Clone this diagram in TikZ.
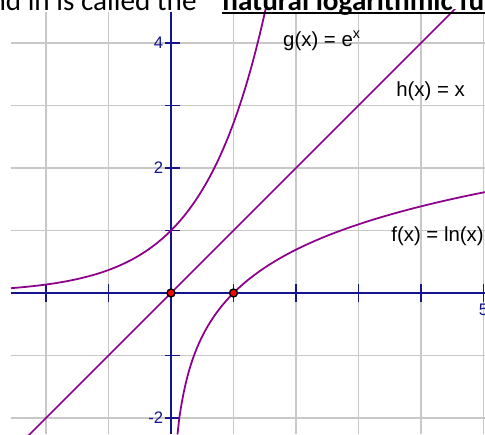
\documentclass[tikz,border=0pt]{standalone}
\usepackage{fontspec}
\setmainfont{Liberation Sans}
\newfontfamily\slidefont{Carlito}
\usetikzlibrary{positioning}
\definecolor{axisblue}{RGB}{20,20,140}
\definecolor{curvepurple}{RGB}{140,0,140}
\definecolor{gridgray}{RGB}{200,200,200}

\begin{document}
\begin{tikzpicture}[
  x=1.25cm, y=1.25cm,
  gridline/.style={draw=gridgray, line width=1.1pt},
  axis/.style={draw=axisblue, line width=1.1pt},
  curve/.style={draw=curvepurple, line width=1pt},
  ticklabel/.style={font=\fontsize{9.5}{11}\selectfont, text=axisblue, inner sep=1pt},
  fnlabel/.style={font=\fontsize{11.6}{13}\selectfont, inner sep=0pt, anchor=base west},
  slide/.style={font=\slidefont\fontsize{16.6}{19}\selectfont, inner sep=0pt},
  dot/.style={circle, draw=black, fill=red, line width=0.8pt, minimum size=0.16cm, inner sep=0pt}
]
\useasboundingbox (-2.736,-2.256) rectangle (5.024,4.688);

% ── Grid ───────────────────────────────────────────────────────────────────
\foreach \x in {-2,-1,1,2,3,4,5}
  \draw[gridline] (\x,-2.26) -- (\x,4.5);
\foreach \y in {-2,-1,1,2,3,4}
  \draw[gridline] (-2.56,\y) -- (5.03,\y);

% ── Axes and ticks ─────────────────────────────────────────────────────────
\draw[axis] (-2.56,0) -- (5.03,0);
\draw[axis] (0,-2.26) -- (0,4.5);
\foreach \x in {-2,-1,1,2,3,4,5}
  \draw[axis] (\x,-0.14) -- (\x,0.14);
\foreach \y in {-2,-1,1,2,3,4}
  \draw[axis] (-0.09,\y) -- (0.14,\y);

\node[ticklabel, left]  (yfour)  at (-0.09,4)  {4};
\node[ticklabel, left]  (ytwo)   at (-0.09,2)  {2};
\node[ticklabel, left]  (ymtwo)  at (-0.09,-2) {-2};
\node[ticklabel, below] (xfive)  at (5,-0.15)  {5};

% ── Curves ─────────────────────────────────────────────────────────────────
\begin{scope}
  \clip (-2.56,-2.26) rectangle (5.03,4.53);
  \draw[curve] plot[domain=-2.56:1.52, samples=100] (\x,{exp(\x)});
  \draw[curve] plot[domain=0.104:5.03, samples=160] (\x,{ln(\x)});
  \draw[curve] (-2.3,-2.3) -- (4.6,4.6);
\end{scope}

\node[dot] (origin) at (0,0) {};
\node[dot] (one)    at (1,0) {};

% ── Function labels ────────────────────────────────────────────────────────
\node[fnlabel] (glab) at (1.79,3.95) {g(x) = e\textsuperscript{x}};
\node[fnlabel] (hlab) at (3.60,3.14) {h(x) = x};
\node[fnlabel] (flab) at (3.52,0.82) {f(x) = ln(x)};

% ── Slide text above the plot ──────────────────────────────────────────────
\node[slide, font=\slidefont\bfseries\fontsize{16.6}{19}\selectfont, anchor=base west]
  (hdrb) at (0.816,4.528) {natural logarithmic fu};
\node[slide, base left=0.5cm of hdrb] (hdr) {nd ln is called the};
\draw[line width=1.1pt] ([yshift=-0.06cm]hdrb.base west) -- ([yshift=-0.06cm]hdrb.base east);

\end{tikzpicture}
\end{document}
